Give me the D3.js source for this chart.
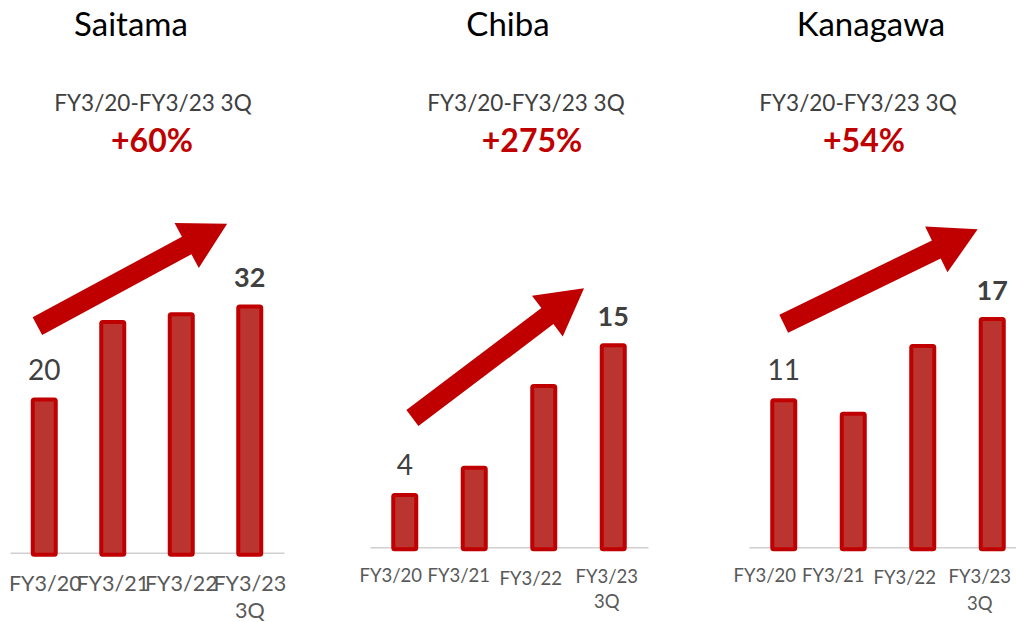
<!DOCTYPE html>
<html lang="en">
<head>
  <meta charset="UTF-8">
  <title>Saitama / Chiba / Kanagawa FY3/20-FY3/23 3Q</title>
  <script src="https://d3js.org/d3.v7.min.js"></script>
  <style>
    body { margin: 0; background: #fff; font-family: Lato, "Open Sans", sans-serif; }
    svg { display: block; }
  </style>
</head>
<body>
<svg width="1016" height="622"></svg>

<script>
  // data
  const categories = ["FY3/20", "FY3/21", "FY3/22", "FY3/23 3Q"];
  const regions = ["Saitama", "Chiba", "Kanagawa"];
  const saitamaValues = [20, 30, 31, 32];
  const chibaValues = [4, 6, 12, 15];
  const kanagawaValues = [11, 10, 15, 17];
  const periodLabel = "FY3/20-FY3/23 3Q";
  const growthLabels = ["+60%", "+275%", "+54%"];
  const labelledBars = [0, 3];   // first and last bar carry a value label

  const seriesValues = [saitamaValues, chibaValues, kanagawaValues];

  // layout of each panel (tick label nudges as in the original slide)
  const panels = [
    { x: [10, 284],  base: 552.7, top: 242.3, yMax: 40, titleX: 131, subX: 153, growthX: 152,
      tickFont: 21.5, tickDy: 38.5, lineH: 27, nudgeX: [1, 0, 0, 0], nudgeY: [0, 0, 0, 0] },
    { x: [370, 648], base: 547.3, top: 275.3, yMax: 20, titleX: 508, subX: 526, growthX: 532,
      tickFont: 18.5, tickDy: 34.5, lineH: 25, nudgeX: [-14, -15.5, -13, -6.5], nudgeY: [0, 0, 3, 1.5] },
    { x: [749, 1027], base: 547.3, top: 276.3, yMax: 20, titleX: 871, subX: 858, growthX: 864,
      tickFont: 18.5, tickDy: 34.5, lineH: 27, nudgeX: [-19, -20, -18, -12.5], nudgeY: [0, 0, 2.5, 1.5] }
  ];

  // trend arrows, in (bar index, value) units
  const arrows = [
    { from: [-0.1, 29.2], to: [2.67, 42.4] },
    { from: [0.11, 9.5],  to: [2.58, 19.04] },
    { from: [0, 16.5],    to: [2.79, 23.47] }
  ];

  const red = "#c00000";
  const svg = d3.select("svg");

  panels.forEach((p, k) => {
    const values = seriesValues[k];
    const g = svg.append("g");

    const x = d3.scaleBand().domain(categories).range(p.x).padding(0);
    const y = d3.scaleLinear().domain([0, p.yMax]).range([p.base, p.top]);
    const cx = d => x(d) + x.bandwidth() / 2;
    const xi = d3.scaleLinear().domain([0, 3]).range([cx(categories[0]), cx(categories[3])]);

    // titles
    g.append("text")
      .attr("x", p.titleX).attr("y", 36)
      .attr("text-anchor", "middle")
      .style("font-size", "33px").style("fill", "#000")
      .text(regions[k]);
    g.append("text")
      .attr("x", p.subX).attr("y", 111)
      .attr("text-anchor", "middle")
      .style("font-size", "22.5px").style("fill", "#404040")
      .text(periodLabel);
    g.append("text")
      .attr("x", p.growthX).attr("y", 152)
      .attr("text-anchor", "middle")
      .style("font-size", "32px").style("font-weight", "bold").style("fill", red)
      .text(growthLabels[k]);

    // axis
    const axis = g.append("g")
      .attr("transform", `translate(0,${p.base})`)
      .call(d3.axisBottom(x).tickSize(0).tickSizeOuter(0));
    axis.select(".domain").attr("stroke", "#d0d0d0").attr("stroke-width", 1.5);
    axis.selectAll(".tick text").each(function(d, i) {
      const t = d3.select(this).text(null)
        .attr("y", 0).attr("dy", null)
        .style("font-family", "Lato, sans-serif")
        .style("font-size", p.tickFont + "px")
        .attr("fill", "#595959");
      d.split(" ").forEach((w, j) => {
        t.append("tspan")
          .attr("x", p.nudgeX[i])
          .attr("y", p.tickDy + p.nudgeY[i] + j * p.lineH)
          .text(w);
      });
    });

    // bars
    g.selectAll("rect.bar")
      .data(values.map((v, i) => ({ cat: categories[i], v })))
      .join("rect")
        .attr("class", "bar")
        .attr("x", d => cx(d.cat) - 11.5)
        .attr("y", d => y(d.v) + 2)
        .attr("width", 23)
        .attr("height", d => y(0) - y(d.v))
        .attr("rx", 1.5)
        .attr("fill", "#bb3530")
        .attr("stroke", red)
        .attr("stroke-width", 4);

    // value labels
    labelledBars.forEach(i => {
      g.append("text")
        .attr("x", cx(categories[i]))
        .attr("y", y(values[i]) - (i === 3 ? 17 : 18))
        .attr("text-anchor", "middle")
        .style("font-size", i === 3 ? "27px" : "28px")
        .style("font-weight", i === 3 ? "bold" : "normal")
        .style("fill", "#404040")
        .text(values[i]);
    });

    // arrow
    const a = arrows[k];
    const T = [xi(a.from[0]), y(a.from[1])];
    const P = [xi(a.to[0]), y(a.to[1])];
    const len = Math.hypot(P[0] - T[0], P[1] - T[1]);
    const u = [(P[0] - T[0]) / len, (P[1] - T[1]) / len];
    const n = [-u[1], u[0]];
    const w = 10, hw = 25.5, hl = 46;
    const B = [P[0] - u[0] * hl, P[1] - u[1] * hl];
    const pt = (o, s) => [o[0] + n[0] * s, o[1] + n[1] * s];
    const poly = [pt(T, w), pt(B, w), pt(B, hw), P, pt(B, -hw), pt(B, -w), pt(T, -w)];
    g.append("path")
      .attr("d", d3.line()(poly) + "Z")
      .attr("fill", red);
  });
</script>

</body>
</html>
